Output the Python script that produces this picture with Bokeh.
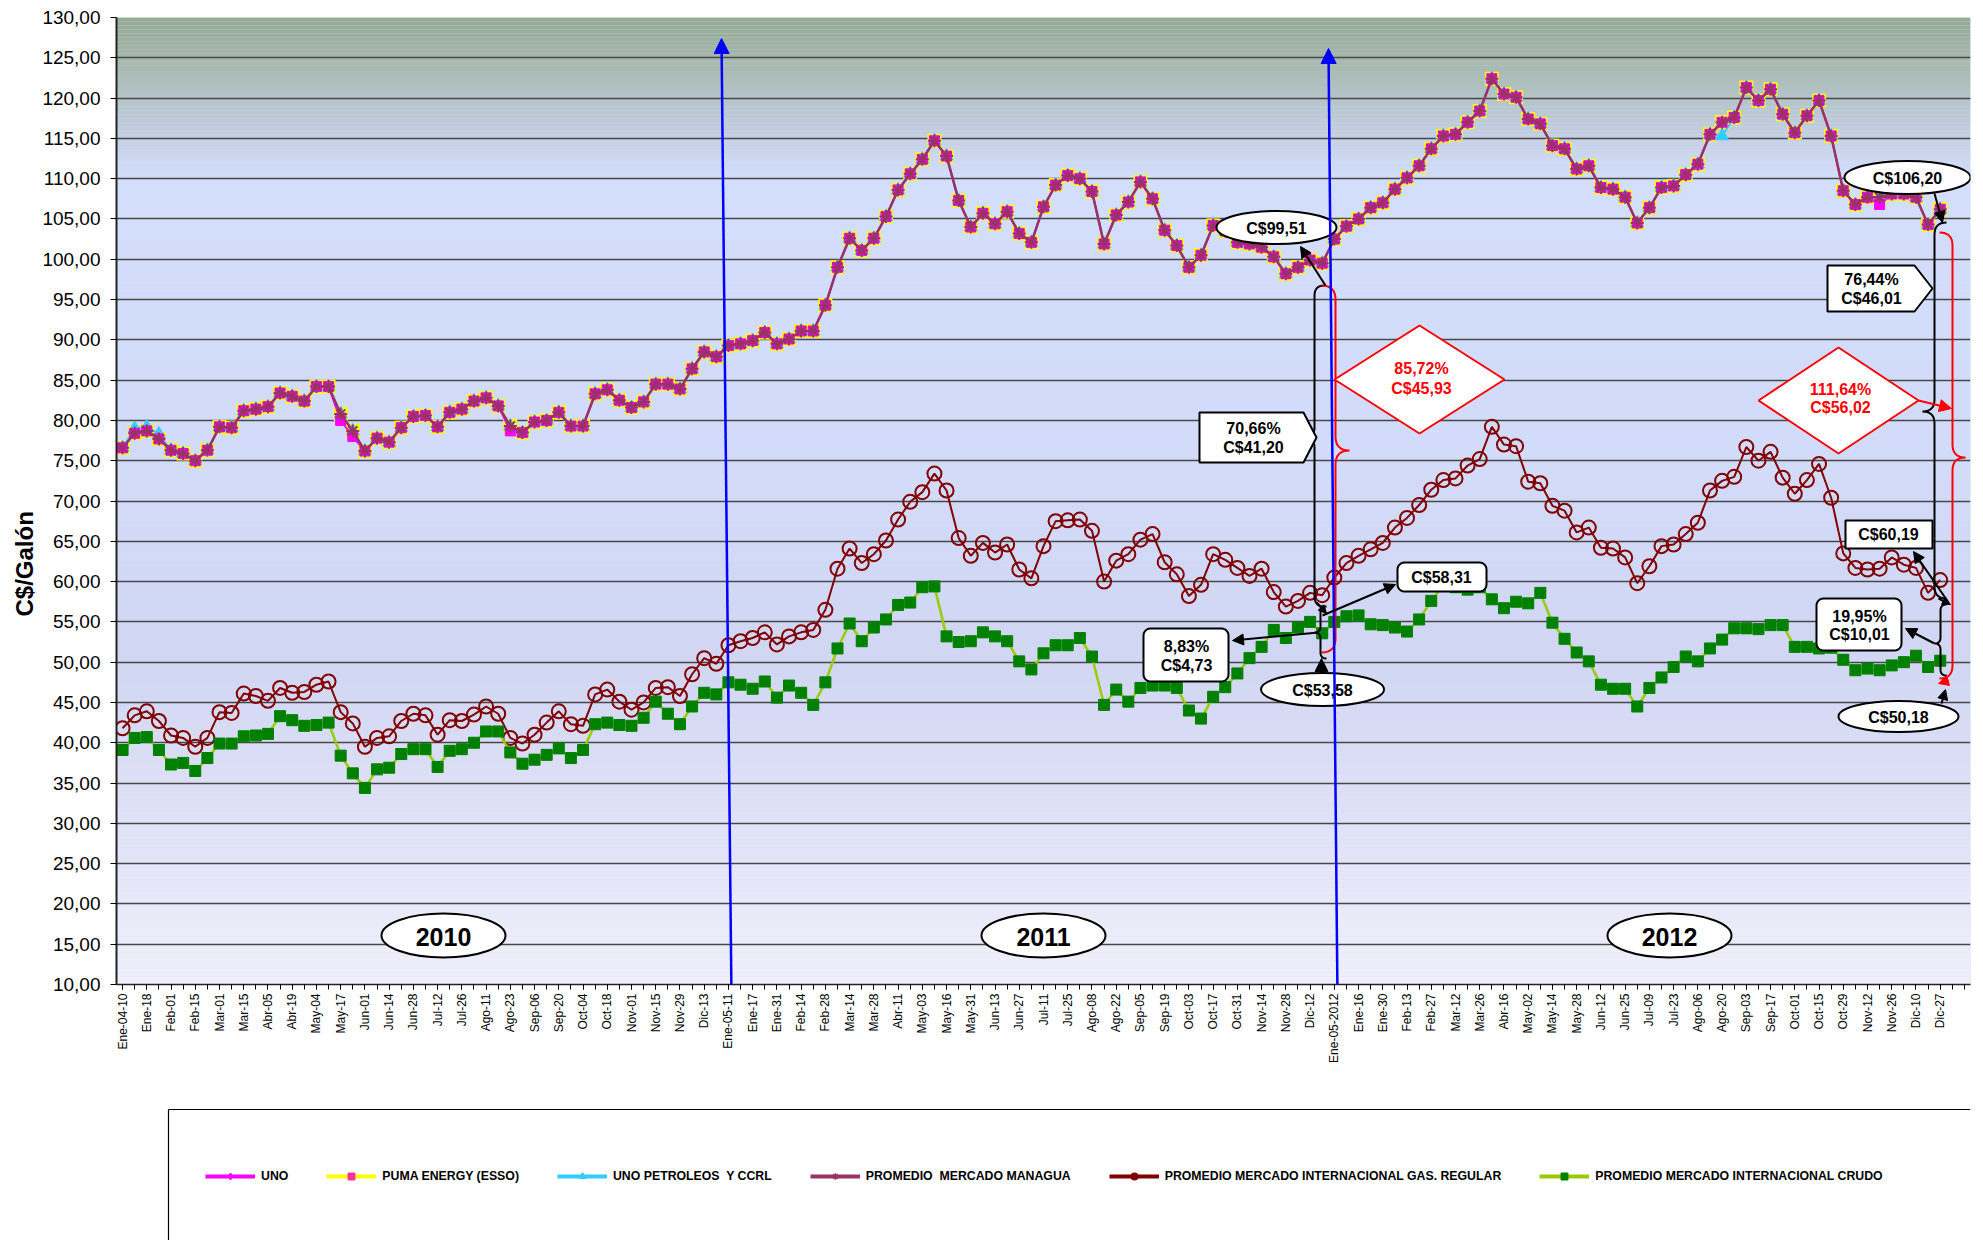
import math
from bokeh.plotting import figure
from bokeh.layouts import column
from bokeh.models import Range1d, FixedTicker, Arrow, NormalHead, Legend, LegendItem, Title
from bokeh.core.properties import value
from bokeh.embed import file_html
from bokeh.resources import INLINE

FONT = "Liberation Sans"

X_LABELS = [
    "Ene-04-10", "Ene-18", "Feb-01", "Feb-15", "Mar-01", "Mar-15", "Abr-05", "Abr-19", "May-04", "May-17",
    "Jun-01", "Jun-14", "Jun-28", "Jul-12", "Jul-26", "Ago-11", "Ago-23", "Sep-06", "Sep-20", "Oct-04",
    "Oct-18", "Nov-01", "Nov-15", "Nov-29", "Dic-13",
    "Ene-05-11", "Ene-17", "Ene-31", "Feb-14", "Feb-28", "Mar-14", "Mar-28", "Abr-11", "May-03", "May-16",
    "May-31", "Jun-13", "Jun-27", "Jul-11", "Jul-25", "Ago-08", "Ago-22", "Sep-05", "Sep-19", "Oct-03",
    "Oct-17", "Oct-31", "Nov-14", "Nov-28", "Dic-12",
    "Ene-05-2012", "Ene-16", "Ene-30", "Feb-13", "Feb-27", "Mar-12", "Mar-26", "Abr-16", "May-02", "May-14",
    "May-28", "Jun-12", "Jun-25", "Jul-09", "Jul-23", "Ago-06", "Ago-20", "Sep-03", "Sep-17", "Oct-01",
    "Oct-15", "Oct-29", "Nov-12", "Nov-26", "Dic-10", "Dic-27",
]
Y_TICKS = list(range(10, 131, 5))
N_SLOTS = 153

PROMEDIO = [
    76.6, 78.4, 78.7, 77.7, 76.3, 75.9, 75.0, 76.3, 79.2, 79.1,
    81.2, 81.4, 81.7, 83.4, 83.0, 82.4, 84.2, 84.2, 80.8, 78.7,
    76.2, 77.8, 77.3, 79.1, 80.5, 80.6, 79.2, 81.0, 81.4, 82.4,
    82.8, 81.8, 79.3, 78.5, 79.8, 80.0, 81.0, 79.3, 79.3, 83.3,
    83.8, 82.5, 81.6, 82.3, 84.5, 84.5, 83.9, 86.4, 88.5, 87.9,
    89.3, 89.5, 89.9, 90.9, 89.5, 90.1, 91.1, 91.1, 94.3, 99.0,
    102.6, 101.1, 102.6, 105.3, 108.6, 110.6, 112.4, 114.7, 112.8, 107.3,
    104.0, 105.7, 104.4, 105.9, 103.2, 102.1, 106.5, 109.2, 110.4, 110.0,
    108.4, 101.9, 105.5, 107.1, 109.6, 107.5, 103.6, 101.7, 99.0, 100.5,
    104.2, 103.5, 102.1, 101.9, 101.5, 100.3, 98.2, 99.0, 99.9, 99.51,
    102.5, 104.1, 105.0, 106.4, 107.0, 108.7, 110.1, 111.6, 113.7, 115.3,
    115.5, 117.0, 118.4, 122.4, 120.5, 120.1, 117.4, 116.8, 114.1, 113.7,
    111.2, 111.6, 108.9, 108.7, 107.7, 104.5, 106.4, 108.9, 109.1, 110.5,
    111.8, 115.5, 117.0, 117.6, 121.3, 119.7, 121.1, 118.0, 115.7, 117.8,
    119.7, 115.3, 108.5, 106.8, 107.7, 107.7, 108.1, 108.1, 107.7, 104.3,
    106.20,
]
UNO = list(PROMEDIO)
UNO[18] = 80.0
UNO[19] = 78.0
UNO[32] = 78.7
UNO[145] = 106.8
PUMA = list(PROMEDIO)
UNO_PET = list(PROMEDIO)
UNO_PET[1] = 79.0
UNO_PET[2] = 79.2
UNO_PET[3] = 78.3
UNO_PET[132] = 115.3

GAS = [
    41.8, 43.4, 43.9, 42.7, 40.9, 40.6, 39.5, 40.6, 43.8, 43.7,
    46.1, 45.8, 45.2, 46.8, 46.2, 46.3, 47.2, 47.6, 43.8, 42.4,
    39.5, 40.6, 40.8, 42.7, 43.6, 43.4, 41.0, 42.8, 42.7, 43.5,
    44.5, 43.6, 40.6, 39.9, 41.0, 42.5, 43.9, 42.3, 42.1, 46.0,
    46.6, 45.1, 44.1, 45.0, 46.8, 46.9, 45.8, 48.5, 50.5, 49.8,
    52.1, 52.6, 53.0, 53.7, 52.2, 53.2, 53.7, 54.0, 56.5, 61.6,
    64.1, 62.3, 63.4, 65.1, 67.7, 69.9, 71.1, 73.4, 71.3, 65.4,
    63.2, 64.8, 63.6, 64.6, 61.5, 60.4, 64.4, 67.5, 67.6, 67.7,
    66.3, 60.0, 62.6, 63.4, 65.2, 65.9, 62.4, 60.9, 58.2, 59.6,
    63.4, 62.7, 61.7, 60.7, 61.6, 58.7, 56.9, 57.6, 58.6, 58.31,
    60.5, 62.3, 63.2, 64.0, 64.8, 66.7, 67.9, 69.5, 71.4, 72.6,
    72.8, 74.4, 75.2, 79.2, 77.0, 76.8, 72.4, 72.2, 69.4, 68.8,
    66.1, 66.7, 64.2, 64.1, 63.0, 59.8, 61.9, 64.4, 64.6, 65.9,
    67.3, 71.3, 72.5, 73.0, 76.7, 75.0, 76.1, 72.9, 70.9, 72.6,
    74.6, 70.4, 63.5, 61.7, 61.5, 61.6, 63.0, 62.1, 61.7, 58.6,
    60.19,
]
CRUDO = [
    39.1, 40.6, 40.7, 39.1, 37.3, 37.5, 36.5, 38.1, 39.9, 39.9,
    40.8, 40.9, 41.1, 43.3, 42.8, 42.1, 42.2, 42.5, 38.4, 36.2,
    34.4, 36.7, 36.9, 38.6, 39.2, 39.2, 37.0, 39.0, 39.2, 40.0,
    41.4, 41.4, 38.8, 37.4, 37.9, 38.5, 39.3, 38.1, 39.1, 42.3,
    42.5, 42.2, 42.1, 43.1, 45.1, 43.6, 42.3, 44.5, 46.2, 46.0,
    47.5, 47.2, 46.7, 47.6, 45.6, 47.1, 46.2, 44.7, 47.5, 51.7,
    54.8, 52.6, 54.3, 55.3, 57.1, 57.4, 59.3, 59.4, 53.2, 52.5,
    52.6, 53.7, 53.2, 52.6, 50.1, 49.1, 51.1, 52.1, 52.1, 53.0,
    50.7, 44.7, 46.6, 45.1, 46.8, 47.1, 47.1, 46.8, 44.0, 43.0,
    45.7, 46.9, 48.6, 50.5, 51.9, 54.0, 53.0, 54.3, 55.0, 53.58,
    55.0, 55.7, 55.8, 54.7, 54.6, 54.3, 53.8, 55.3, 57.6, 59.6,
    59.3, 59.0, 59.3, 57.8, 56.7, 57.5, 57.3, 58.6, 54.9, 52.9,
    51.2, 50.1, 47.2, 46.7, 46.7, 44.5, 46.8, 48.1, 49.4, 50.7,
    50.1, 51.7, 52.8, 54.2, 54.2, 54.1, 54.6, 54.6, 51.9, 51.9,
    51.7, 51.8, 50.3, 49.0, 49.2, 49.0, 49.6, 50.0, 50.8, 49.4,
    50.18,
]
for s in (PROMEDIO, GAS, CRUDO):
    assert len(s) == 151, len(s)

IDX = list(range(len(PROMEDIO)))

# ---------------- main figure ----------------
p = figure(width=1983, height=1100, x_range=Range1d(-0.5, N_SLOTS - 0.5), y_range=Range1d(10, 130),
           output_backend="svg", toolbar_location=None,
           min_border_left=116, min_border_right=13, min_border_top=17, min_border_bottom=116)
p.outline_line_color = None
p.background_fill_color = "#D3DEFC"
p.border_fill_color = "white"

# gradient background (styling)
STOPS = [(10, (240, 240, 250)), (30, (224, 226, 246)), (50, (209, 214, 242)), (80, (210, 220, 250)),
         (110, (211, 222, 252)), (115, (197, 208, 228)), (120, (181, 196, 200)), (125, (165, 183, 172)),
         (130, (148, 170, 148))]


def grad(v):
    for (a, ca), (b, cb) in zip(STOPS[:-1], STOPS[1:]):
        if a <= v <= b:
            t = (v - a) / (b - a)
            c = [round(ca[k] + (cb[k] - ca[k]) * t) for k in range(3)]
            return "#%02x%02x%02x" % tuple(c)
    return "#D3DEFC"


bb = [10 + 0.5 * k for k in range(240)]
p.quad(left=-0.5, right=N_SLOTS - 0.5, bottom=bb, top=[b + 0.5 for b in bb],
       fill_color=[grad(b + 0.25) for b in bb], line_color=None, level="image")

p.xgrid.visible = False
p.ygrid.ticker = FixedTicker(ticks=Y_TICKS)
p.ygrid.grid_line_color = "#474747"
p.ygrid.grid_line_width = 1.5

yax = p.yaxis[0]
yax.ticker = FixedTicker(ticks=Y_TICKS)
yax.major_label_overrides = {v: f"{v},00" for v in Y_TICKS}
yax.major_label_text_font = FONT
yax.major_label_text_font_size = "19px"
yax.major_label_text_color = "black"
yax.major_tick_in = 0
yax.major_tick_out = 6
yax.minor_tick_line_color = None
yax.major_label_standoff = 10
yax.axis_line_width = 2
yax.axis_line_color = "#222222"

# y-axis title, placed below the centre as in the original (offset from frame bottom)
p.add_layout(Title(text="C$/Galón", align="left", offset=368, standoff=4, text_font=FONT,
                   text_font_style="bold", text_font_size="24px", text_color="black"), "left")

xax = p.xaxis[0]
xax.ticker = FixedTicker(ticks=list(range(0, 151, 2)), minor_ticks=list(range(0, N_SLOTS)))
xax.major_label_overrides = {2 * i: lab for i, lab in enumerate(X_LABELS)}
xax.major_label_orientation = math.pi / 2
xax.major_label_text_font = FONT
xax.major_label_text_font_size = "12px"
xax.major_label_text_color = "black"
xax.major_label_standoff = 4
xax.major_tick_in = 0
xax.major_tick_out = 5
xax.minor_tick_in = 0
xax.minor_tick_out = 5
xax.axis_line_width = 1.5
xax.axis_line_color = "#222222"

# ---------------- series ----------------
p.line(IDX, PUMA, line_color="#FFFF00", line_width=2)
p.scatter(IDX, PUMA, marker="square", size=13, fill_color="#FFFF00", line_color="#FFFF00")
p.line(IDX, UNO_PET, line_color="#33CCFF", line_width=2)
p.scatter(IDX, UNO_PET, marker="triangle", size=13, fill_color="#33CCFF", line_color="#33CCFF")
p.line(IDX, UNO, line_color="#FF00FF", line_width=2)
p.scatter(IDX, UNO, marker="square", size=10, fill_color="#FF00FF", line_color="#FF00FF")
p.line(IDX, PROMEDIO, line_color="#993366", line_width=2.5)
p.scatter(IDX, PROMEDIO, marker="asterisk", size=13, line_color="#993366", line_width=2)
p.line(IDX, GAS, line_color="#800000", line_width=2)
p.scatter(IDX, GAS, marker="circle", size=14, fill_alpha=0, line_color="#800000", line_width=2)
p.line(IDX, CRUDO, line_color="#99CC00", line_width=2.5)
p.scatter(IDX, CRUDO, marker="square", size=11, fill_color="#008000", line_color="#008000")

# ---------------- annotations (placed in reference pixel space) ----------------
SLOT = 1854 / N_SLOTS
PPU = 967 / 120


def X(px):
    return (px - 116) / SLOT - 0.5


def Y(py):
    return 130 - (py - 17) / PPU


def arrow(x0, y0, x1, y1, color="black", size=11, width=2):
    p.add_layout(Arrow(end=NormalHead(size=size, fill_color=color, line_color=color),
                       x_start=X(x0), y_start=Y(y0), x_end=X(x1), y_end=Y(y1),
                       line_color=color, line_width=width))


def ellipse(cx, cy, w, h):
    p.ellipse(x=[X(cx)], y=[Y(cy)], width=[w / SLOT], height=[h / PPU],
              fill_color="white", line_color="black", line_width=2)


def poly(pts, line="black"):
    p.patch([X(a) for a, b in pts], [Y(b) for a, b in pts], fill_color="white", line_color=line, line_width=2)


def rrect(x0, y0, x1, y1, r=7):
    pts = []
    for (cx, cy, a0) in ((x1 - r, y0 + r, -90), (x1 - r, y1 - r, 0), (x0 + r, y1 - r, 90), (x0 + r, y0 + r, 180)):
        for k in range(7):
            a = math.radians(a0 + 15 * k)
            pts.append((cx + r * math.cos(a), cy + r * math.sin(a)))
    poly(pts)


def text(x, y, s, size="16px", color="black"):
    p.text(x=[X(x)], y=[Y(y)], text=[s], text_font=value(FONT), text_font_style="bold",
           text_font_size=size, text_color=color, text_align="center", text_baseline="middle")


def brace(x, yt, yb, ym, r, d, color="black", width=2):
    e, c = -d * r, d * r
    pts = []

    def quad(p0, p1, p2, n=8):
        for k in range(n + 1):
            t = k / n
            pts.append(((1 - t) ** 2 * p0[0] + 2 * (1 - t) * t * p1[0] + t * t * p2[0],
                        (1 - t) ** 2 * p0[1] + 2 * (1 - t) * t * p1[1] + t * t * p2[1]))
    quad((x + e, yt), (x, yt), (x, yt + r))
    quad((x, ym - r), (x, ym), (x + c, ym))
    quad((x + c, ym), (x, ym), (x, ym + r))
    quad((x, yb - r), (x, yb), (x + e, yb))
    p.line([X(a) for a, b in pts], [Y(b) for a, b in pts], line_color=color, line_width=width)


# year markers
for cx, yr in ((443, "2010"), (1043, "2011"), (1669, "2012")):
    ellipse(cx, 935, 124, 44)
    text(cx, 936, yr, size="25px")

# blue year-start arrows
arrow(731, 998, 721, 38, color="blue", size=15, width=2.5)
arrow(1337, 998, 1328, 48, color="blue", size=15, width=2.5)

# ----- left group (Ene-2012) -----
brace(1314, 285, 606, 437, 10, -1)
arrow(1316, 602, 1326, 613, size=8)
brace(1335, 285, 652, 450, 14, +1, color="red")
brace(1320, 606, 658, 632, 6, -1)

poly([(1334, 379), (1419, 325), (1504, 379), (1419, 433)], line="red")
text(1421, 368, "85,72%", color="red")
text(1421, 388, "C$45,93", color="red")

poly([(1199, 412), (1303, 412), (1316, 437), (1303, 462), (1199, 462)])
text(1253, 428, "70,66%")
text(1253, 447, "C$41,20")

ellipse(1276, 227, 120, 33)
text(1276, 228, "C$99,51")
arrow(1325, 285, 1300, 246)

rrect(1143, 628, 1228, 681)
text(1186, 646, "8,83%")
text(1186, 665, "C$4,73")
arrow(1318, 632, 1232, 640)

rrect(1397, 562, 1486, 591)
text(1441, 577, "C$58,31")
arrow(1322, 615, 1395, 584)

ellipse(1322, 689, 123, 33)
text(1322, 690, "C$53,58")
arrow(1321, 673, 1321, 658, size=13)

# ----- right group (Dic-2012) -----
brace(1934, 222, 598, 411, 12, -1)
arrow(1938, 598, 1950, 604, size=8)
brace(1952, 232, 678, 457, 13, +1, color="red")
arrow(1948, 680, 1938, 683, color="red", size=10)
brace(1940, 604, 675, 643, 6, -1)

poly([(1758, 400), (1838, 347), (1918, 400), (1838, 453)], line="red")
text(1840, 389, "111,64%", color="red")
text(1840, 407, "C$56,02", color="red")
arrow(1918, 400, 1951, 408, color="red", size=12)

poly([(1827, 265), (1914, 265), (1932, 288), (1914, 311), (1827, 311)])
text(1871, 279, "76,44%")
text(1871, 298, "C$46,01")

ellipse(1907, 177, 126, 33)
text(1907, 178, "C$106,20")
arrow(1934, 193, 1942, 222)

poly([(1845, 520), (1932, 520), (1932, 548), (1845, 548)])
text(1888, 534, "C$60,19")
arrow(1948, 602, 1913, 551)

rrect(1816, 598, 1901, 650)
text(1859, 616, "19,95%")
text(1859, 634, "C$10,01")
arrow(1934, 643, 1905, 628)

ellipse(1898, 716, 120, 31)
text(1898, 717, "C$50,18")
arrow(1941, 703, 1945, 689, size=10)

# ---------------- legend strip (frame aligned with the chart frame: x in page px) ----------------
pl = figure(width=1983, height=140, x_range=Range1d(116, 1970), y_range=Range1d(0, 140),
            x_axis_type=None, y_axis_type=None, output_backend="svg", toolbar_location=None, min_border=0)
pl.outline_line_color = None
pl.background_fill_color = "white"
pl.border_fill_color = "white"
pl.line([168, 168], [0, 131], line_color="black", line_width=1.2)
pl.line([168, 1970], [131, 131], line_color="black", line_width=1.2)

NAN = float("nan")
LEG = [
    ("UNO", "#FF00FF", "diamond", "#FF00FF", 9),
    ("PUMA ENERGY (ESSO)", "#FFFF00", "square", "#FF3399", 6),
    ("UNO PETROLEOS  Y CCRL", "#33CCFF", "triangle", "#33CCFF", 9),
    ("PROMEDIO  MERCADO MANAGUA", "#993366", "asterisk", "#993366", 9),
    ("PROMEDIO MERCADO INTERNACIONAL GAS. REGULAR", "#800000", "circle", "#800000", 8),
    ("PROMEDIO MERCADO INTERNACIONAL CRUDO", "#99CC00", "square", "#008000", 8),
]
items = []
for lab, lc, mk, mc, ms in LEG:
    rl = pl.line([NAN], [NAN], line_color=lc, line_width=4)
    rs = pl.scatter([NAN], [NAN], marker=mk, size=ms, fill_color=mc, line_color=mc, line_width=1.5)
    items.append(LegendItem(label=lab, renderers=[rl, rs]))
leg = Legend(items=items, orientation="horizontal", location=(89, 56), spacing=38, glyph_width=50,
             glyph_height=16, label_standoff=6, padding=0, margin=0, border_line_alpha=0,
             background_fill_alpha=0, label_text_font=FONT, label_text_font_size="12.3px",
             label_text_font_style="bold", label_text_color="black")
pl.add_layout(leg)

layout = column(p, pl)
open("out.html", "w").write(file_html(layout, INLINE))
